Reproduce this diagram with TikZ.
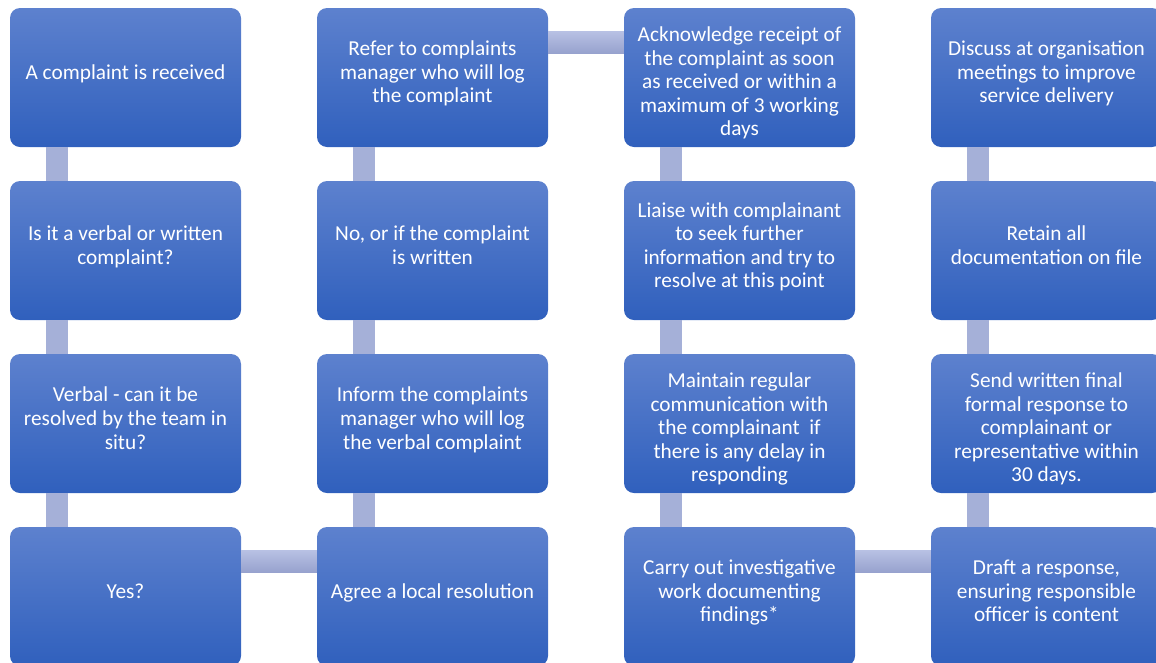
\documentclass[tikz,border=0pt]{standalone}
\usepackage{fontspec}
\setmainfont{Carlito}
\definecolor{boxtop}{RGB}{93,129,206}
\definecolor{boxbot}{RGB}{48,96,189}
\definecolor{linktop}{RGB}{183,192,227}
\definecolor{linkbot}{RGB}{150,161,205}
\definecolor{linkfill}{RGB}{165,176,216}
\newcommand{\toppad}{\rule{0pt}{26pt}}
\tikzset{
	stagebox/.style = {rectangle, rounded corners=10pt, minimum width=231pt, minimum height=139pt,
		top color=boxtop, bottom color=boxbot, text=white, align=center, inner sep=0pt,
		font=\fontsize{21.3}{23.6}\selectfont},
	stage/.style = {stagebox, execute at end node={\rule[-11pt]{0pt}{0pt}}},
	vlink/.style = {fill=linkfill},
	hlink/.style = {top color=linktop, bottom color=linkbot}
}

\begin{document}
\begin{tikzpicture}[x=1pt, y=-1pt]
		\useasboundingbox (0,0) rectangle (1156,662);
		\clip (0,0) rectangle (1156,662);
		% first column, top to bottom
		\node [stage] (received) at (125.5,77.5) {A complaint is received};
		\node [stage] (kind) at (125.5,250.5) {Is it a verbal or written\\complaint?};
		\node [stage] (verbal) at (125.5,423.5) {Verbal - can it be\\resolved by the team in\\situ?};
		\node [stage] (yes) at (125.5,596.5) {Yes?};
		% second column, bottom to top
		\node [stage] (agree) at (432.5,596.5) {Agree a local resolution};
		\node [stage] (inform) at (432.5,423.5) {Inform the complaints\\manager who will log\\the verbal complaint};
		\node [stage] (written) at (432.5,250.5) {No, or if the complaint\\is written};
		\node [stage] (refer) at (432.5,77.5) {Refer to complaints\\manager who will log\\the complaint};
		% third column, top to bottom
		\node [stagebox] (ack) at (739.5,77.5) {\toppad Acknowledge receipt of\\the complaint as soon\\as received or within a\\maximum of 3 working\\days};
		\node [stage] (liaise) at (739.5,250.5) {Liaise with complainant\\to seek further\\information and try to\\resolve at this point};
		\node [stagebox] (maintain) at (739.5,423.5) {\toppad Maintain regular\\communication with\\the complainant\ \ if\\there is any delay in\\responding};
		\node [stage] (investigate) at (739.5,596.5) {Carry out investigative\\work documenting\\findings*};
		% fourth column, bottom to top
		\node [stage] (draft) at (1046.5,596.5) {Draft a response,\\ensuring responsible\\officer is content};
		\node [stagebox] (send) at (1046.5,423.5) {\toppad Send written final\\formal response to\\complainant or\\representative within\\30 days.};
		\node [stage] (retain) at (1046.5,250.5) {Retain all\\documentation on file};
		\node [stage] (discuss) at (1046.5,77.5) {Discuss at organisation\\meetings to improve\\service delivery};
		% links
		\fill [vlink] ([xshift=36pt]received.south west) rectangle ([xshift=58pt]kind.north west);
		\fill [vlink] ([xshift=36pt]kind.south west) rectangle ([xshift=58pt]verbal.north west);
		\fill [vlink] ([xshift=36pt]verbal.south west) rectangle ([xshift=58pt]yes.north west);
		\shade [hlink] ([yshift=-24pt]yes.north east) rectangle ([yshift=-46pt]agree.north west);
		\fill [vlink] ([xshift=36pt]inform.south west) rectangle ([xshift=58pt]agree.north west);
		\fill [vlink] ([xshift=36pt]written.south west) rectangle ([xshift=58pt]inform.north west);
		\fill [vlink] ([xshift=36pt]refer.south west) rectangle ([xshift=58pt]written.north west);
		\shade [hlink] ([yshift=-24pt]refer.north east) rectangle ([yshift=-46pt]ack.north west);
		\fill [vlink] ([xshift=36pt]ack.south west) rectangle ([xshift=58pt]liaise.north west);
		\fill [vlink] ([xshift=36pt]liaise.south west) rectangle ([xshift=58pt]maintain.north west);
		\fill [vlink] ([xshift=36pt]maintain.south west) rectangle ([xshift=58pt]investigate.north west);
		\shade [hlink] ([yshift=-24pt]investigate.north east) rectangle ([yshift=-46pt]draft.north west);
		\fill [vlink] ([xshift=36pt]send.south west) rectangle ([xshift=58pt]draft.north west);
		\fill [vlink] ([xshift=36pt]retain.south west) rectangle ([xshift=58pt]send.north west);
		\fill [vlink] ([xshift=36pt]discuss.south west) rectangle ([xshift=58pt]retain.north west);
	\end{tikzpicture}
\end{document}
